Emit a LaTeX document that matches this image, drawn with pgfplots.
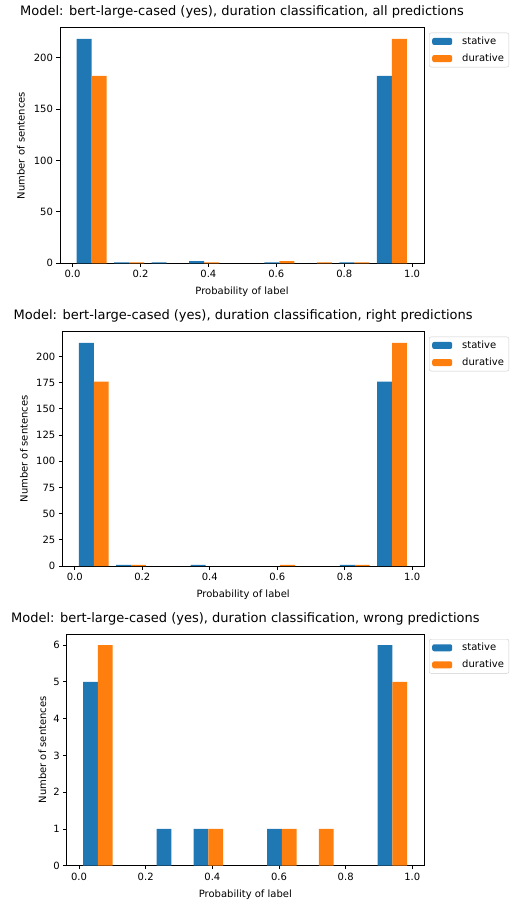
\documentclass[border=0pt]{standalone}
\usepackage{fontspec}
\setmainfont{DejaVu Sans}
\usepackage{pgfplots}
\pgfplotsset{compat=1.18}
\definecolor{tabblue}{HTML}{1F77B4}
\definecolor{taborange}{HTML}{FF7F0E}
\definecolor{legframe}{HTML}{CCCCCC}
\pgfplotsset{
  histstyle/.style={
    scale only axis,
    xmin=-0.037, xmax=1.035, ymin=0,
    axis line style={line width=0.8pt},
    xtick={0,0.2,0.4,0.6,0.8,1.0},
    xticklabels={0.0,0.2,0.4,0.6,0.8,1.0},
    tick align=outside, tick pos=left,
    major tick length=3.5pt,
    every tick/.style={black, line width=0.8pt},
    tick label style={font=\fontsize{10}{12}\selectfont},
    /pgf/number format/assume math mode=true,
    title style={font=\fontsize{13}{15}\selectfont, at={(0.5,1)}, anchor=base, yshift=6pt},
    xlabel style={font=\fontsize{10}{12}\selectfont, at={(axis description cs:0.5,0)}, anchor=base, yshift=-31.3pt},
    ylabel style={font=\fontsize{10}{12}\selectfont, anchor=base},
    xlabel={Probability of label},
    ylabel={Number of sentences},
    legend style={at={(1,1)}, anchor=north west, xshift=5pt, yshift=-5pt,
      draw=legframe, rounded corners=2pt, font=\fontsize{10}{12}\selectfont,
      inner xsep=3pt, inner ysep=2pt, row sep=4pt},
    legend cell align=left,
    legend image code/.code={\fill[##1] (0pt,-3.5pt) rectangle (20pt,3.5pt); \path (28pt,0pt);},
  },
  stat/.style={ybar, bar width=0.0442, bar shift=0pt, fill=tabblue, draw=none},
  dur/.style={ybar, bar width=0.0442, bar shift=0pt, fill=taborange, draw=none},
}
\begin{document}
\begin{tikzpicture}
\useasboundingbox (0,0) rectangle (516pt,-903pt);
% all predictions
\begin{axis}[histstyle, at={(60pt,-263.3pt)}, anchor=south west,
  width=364pt, height=235.6pt, ymax=228.9,
  ytick={0,50,100,150,200},
  ylabel style={at={(axis description cs:-0.0975,0.5)}},
  title={Model: bert-large-cased (yes), duration classification, all predictions}]
\addplot[stat] coordinates {(0.0342,218) (0.1447,1) (0.2552,1) (0.3657,2) (0.5867,1) (0.8077,1) (0.9182,182)};
\addplot[dur] coordinates {(0.0784,182) (0.1889,1) (0.4099,1) (0.6309,2) (0.7414,1) (0.8519,1) (0.9624,218)};
\legend{stative,durative}
\end{axis}
% right predictions
\begin{axis}[histstyle, at={(62.3pt,-566pt)}, anchor=south west,
  width=361.7pt, height=234.3pt, ymax=223.65,
  ytick={0,25,50,75,100,125,150,175,200},
  ylabel style={at={(axis description cs:-0.0962,0.5)}},
  title={Model: bert-large-cased (yes), duration classification, right predictions}]
\addplot[stat] coordinates {(0.0342,213) (0.1447,1) (0.3657,1) (0.8077,1) (0.9182,176)};
\addplot[dur] coordinates {(0.0784,176) (0.1889,1) (0.6309,1) (0.8519,1) (0.9624,213)};
\legend{stative,durative}
\end{axis}
% wrong predictions
\begin{axis}[histstyle, at={(66.7pt,-865.7pt)}, anchor=south west,
  width=357.3pt, height=231.7pt, ymax=6.3,
  ytick={0,1,2,3,4,5,6},
  ylabel style={at={(axis description cs:-0.0579,0.5)}},
  title={Model: bert-large-cased (yes), duration classification, wrong predictions}]
\addplot[stat] coordinates {(0.0342,5) (0.2552,1) (0.3657,1) (0.5867,1) (0.9182,6)};
\addplot[dur] coordinates {(0.0784,6) (0.4099,1) (0.6309,1) (0.7414,1) (0.9624,5)};
\legend{stative,durative}
\end{axis}
\end{tikzpicture}
\end{document}
